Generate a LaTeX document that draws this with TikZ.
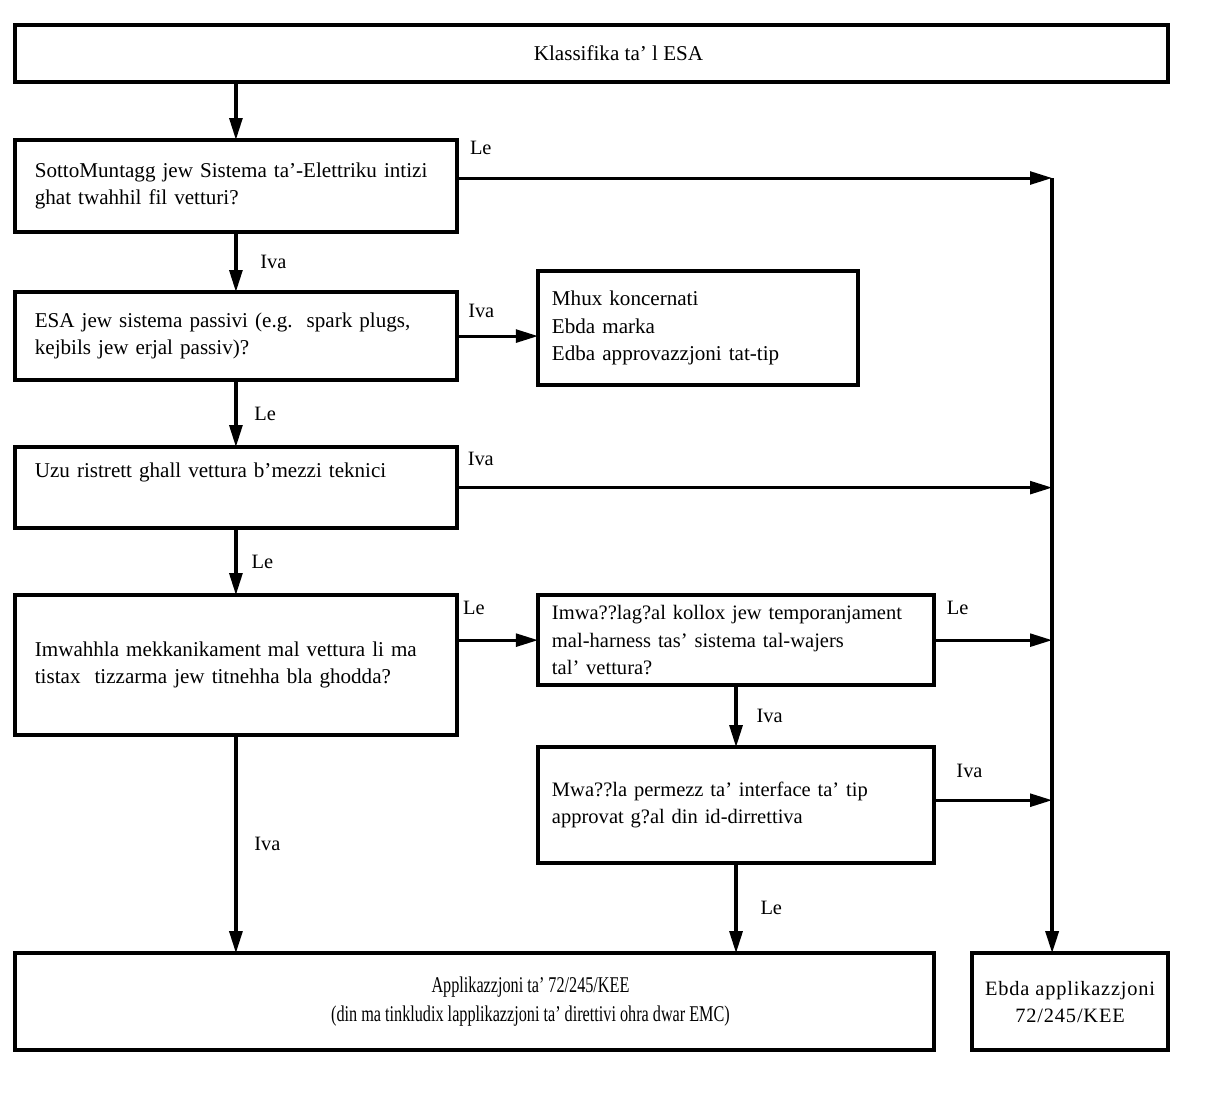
\documentclass[tikz,border=0pt]{standalone}
\usepackage{fontspec}
\setmainfont{Liberation Serif}
\newfontfamily\narrowrm[FakeStretch=0.72]{Liberation Serif}
\newfontfamily\spacedrm[LetterSpace=4]{Liberation Serif}
\usetikzlibrary{arrows.meta, positioning, calc}

\begin{document}
\begin{tikzpicture}[
        x=0.025cm, y=-0.025cm,
        box/.style={draw, line width=2.6pt, inner sep=0pt, outer sep=0pt, font=\fontsize{15}{19.5}\selectfont},
        qbox/.style={box, minimum width=11.05cm, text width=10.05cm, inner xsep=0.5cm, align=left},
        sbox/.style={box, minimum width=9.9cm, text width=9.2cm, inner xsep=0.35cm, align=left, font=\fontsize{14.6}{19.5}\selectfont},
        arr/.style={-{Triangle[length=0.55cm, width=0.32cm]}, line width=2.4pt},
        harr/.style={arr, line width=2.1pt},
        lbl/.style={inner sep=0pt, font=\fontsize{14.5}{16}\selectfont}
    ]
        \useasboundingbox (0,0) rectangle (1211,1105);

        \node[box, minimum width=28.825cm, minimum height=1.425cm] (klass) at (591.5,53.5) {\hspace*{1.35cm}Klassifika ta’ l ESA};
        \node[qbox, minimum height=2.3cm, below=1.45cm of klass.south west, anchor=north west] (tahhil) {SottoMuntagg jew Sistema ta’-Elettriku intizi\\ghat twahhil fil vetturi?};
        \node[qbox, minimum height=2.2cm, below=1.5cm of tahhil] (passiv) {ESA jew sistema passivi (e.g.\ \ spark plugs,\\kejbils jew erjal passiv)?};
        \node[box, minimum width=8cm, minimum height=2.85cm, text width=7.3cm, inner xsep=0.35cm, align=left, right=2.025cm of passiv, yshift=0.2cm] (mhux) {Mhux koncernati\\Ebda marka\\Edba approvazzjoni tat-tip};
        \node[qbox, minimum height=2.025cm, inner ysep=0pt, text height=0.75cm, text depth=1.275cm, below=1.675cm of passiv] (uzu) {Uzu ristrett ghall vettura b’mezzi teknici};
        \node[qbox, minimum height=3.5cm, below=1.675cm of uzu] (mekk) {Imwahhla mekkanikament mal vettura li ma\\tistax\ \ tizzarma jew titnehha bla ghodda?};
        \node[sbox, minimum height=2.25cm, right=2.025cm of mekk.north east, anchor=north west] (harness) {Imwa??lag?al kollox jew temporanjament\\mal-harness tas’ sistema tal-wajers\\tal’ vettura?};
        \node[sbox, minimum height=2.9cm, below=1.55cm of harness] (interf) {Mwa??la permezz ta’ interface ta’ tip\\approvat g?al din id-dirrettiva};
        \node[box, minimum width=22.975cm, minimum height=2.425cm, align=center, font=\narrowrm\fontsize{16}{21}\selectfont, below=5.45cm of mekk.south west, anchor=north west] (applik) {\hspace*{2.8cm}Applikazzjoni ta’ 72/245/KEE\\\hspace*{2.8cm}(din ma tinkludix lapplikazzjoni ta’ direttivi ohra dwar EMC)};
        \node[box, minimum width=4.9cm, minimum height=2.425cm, align=center, font=\spacedrm\fontsize{14.5}{19.5}\selectfont, right=0.95cm of applik.north east, anchor=north west] (ebda) {Ebda applikazzjoni\\72/245/KEE};

        \coordinate (bus) at ($(ebda.north west)+(2cm,0)$);

        \draw[arr] (klass.south -| tahhil.north) -- (tahhil.north);
        \draw[arr] (tahhil) -- node[lbl, right=0.57cm] {Iva} (passiv);
        \draw[arr] (passiv) -- node[lbl, right=0.42cm] {Le} (uzu);
        \draw[arr] (uzu) -- node[lbl, right=0.35cm] {Le} (mekk);
        \draw[arr] (mekk.south) -- node[lbl, right=0.42cm] {Iva} (mekk.south |- applik.north);
        \draw[arr] (harness) -- node[lbl, right=0.47cm] {Iva} (interf);
        \draw[arr] (interf.south) -- node[lbl, right=0.57cm] {Le} (interf.south |- applik.north);

        \draw[harr] (passiv.east) -- node[lbl, pos=0.3, above=0.42cm] {Iva} (passiv.east -| mhux.west);
        \draw[harr] (harness.west -| mekk.east) -- node[lbl, pos=0.21, above=0.6cm] {Le} (harness.west);

        \draw[arr, line width=2.8pt] ([yshift=0.2cm]tahhil.east -| bus) -- (bus);
        \draw[harr] ([yshift=0.2cm]tahhil.east) -- node[lbl, pos=0.04, above=0.55cm] {Le} ([yshift=0.2cm]tahhil.east -| bus);
        \draw[harr] (uzu.east) -- node[lbl, pos=0.04, above=0.5cm] {Iva} (uzu.east -| bus);
        \draw[harr] (harness.east) -- node[lbl, pos=0.2, above=0.6cm] {Le} (harness.east -| bus);
        \draw[harr] ([yshift=0.125cm]interf.east) -- node[lbl, pos=0.3, above=0.52cm] {Iva} ([yshift=0.125cm]interf.east -| bus);
    \end{tikzpicture}
\end{document}
